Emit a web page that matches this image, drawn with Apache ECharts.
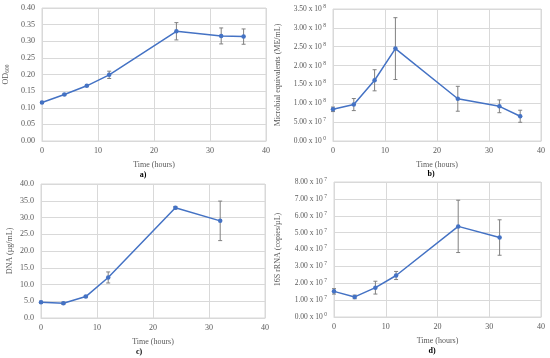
<!DOCTYPE html>
<html><head><meta charset="utf-8">
<script src="https://cdn.jsdelivr.net/npm/echarts@6/dist/echarts.min.js"></script>
<style>html,body{margin:0;padding:0;background:#fff}#c{width:550px;height:358px}</style>
</head><body><div id="c"></div>
<script>
// Panel a: OD600
const timeA = [0, 4, 8, 12, 24, 32, 36];
const odValues = [0.116, 0.140, 0.166, 0.199, 0.330, 0.316, 0.314];
const odErr = [0.003, 0.002, 0.002, 0.011, 0.026, 0.024, 0.023];
// Panel b: microbial equivalents (ME/mL)
const timeB = [0, 4, 8, 12, 24, 32, 36];
const meValues = [0.84e8, 0.966e8, 1.61e8, 2.45e8, 1.12e8, 0.92e8, 0.656e8];
const meErr = [0.06e8, 0.16e8, 0.28e8, 0.82e8, 0.33e8, 0.17e8, 0.16e8];
// Panel c: DNA (µg/mL)
const timeC = [0, 4, 8, 12, 24, 32];
const dnaValues = [4.7, 4.4, 6.4, 12.1, 32.9, 29.0];
const dnaErr = [0.3, 0.3, 0.3, 1.65, 0.4, 5.9];
// Panel d: 16S rRNA (copies/µL)
const timeD = [0, 4, 8, 12, 24, 32];
const rnaValues = [1.52e7, 1.19e7, 1.74e7, 2.46e7, 5.37e7, 4.71e7];
const rnaErr = [0.16e7, 0.11e7, 0.38e7, 0.24e7, 1.55e7, 1.05e7];

const xTicks = {min: 0, max: 40, interval: 10};
const panelLabels = ['a)', 'b)', 'c)', 'd)'];

const FONT = '"Liberation Serif", "DejaVu Serif", serif';
const TXT = '#595959';
const LINE = '#4472C4';
const GRIDC = '#d9d9d9';

function sciFmt(v) {
  if (v === 0) return '0.00 x 10{sup|0}';
  const e = Math.floor(Math.log10(v) + 1e-9);
  const m = v / Math.pow(10, e);
  return m.toFixed(2) + ' x 10{sup|' + e + '}';
}
const supRich = {sup: {fontSize: 5.5, fontFamily: FONT, color: TXT, verticalAlign: 'bottom', padding: [0, 0, 5, 1.5]}};

const grids = [
  {left: 42, top: 8, width: 224, height: 133},
  {left: 333, top: 9, width: 208, height: 132},
  {left: 41, top: 184, width: 224, height: 134},
  {left: 334, top: 182, width: 207, height: 135}
];

function xAxis(i) {
  return {
    type: 'value', gridIndex: i, min: xTicks.min, max: xTicks.max, interval: xTicks.interval,
    name: 'Time (hours)', nameLocation: 'middle', nameGap: 20,
    nameTextStyle: {fontFamily: FONT, fontSize: 8, color: TXT},
    axisLine: {show: true, lineStyle: {color: GRIDC}}, axisTick: {show: false},
    axisLabel: {fontFamily: FONT, fontSize: 8, color: TXT, margin: 6},
    splitLine: {show: true, lineStyle: {color: GRIDC, width: 1}}
  };
}
function yAxis(i, opts) {
  return Object.assign({
    type: 'value', gridIndex: i, nameLocation: 'middle', nameRotate: 90,
    nameTextStyle: {fontFamily: FONT, fontSize: 8, color: TXT},
    axisLine: {show: false}, axisTick: {show: false},
    splitLine: {show: true, lineStyle: {color: GRIDC, width: 1}}
  }, opts);
}

function lineSeries(i, xs, ys) {
  return {
    type: 'line', xAxisIndex: i, yAxisIndex: i,
    data: xs.map((x, k) => [x, ys[k]]),
    symbol: 'circle', symbolSize: 4.5, z: 3,
    lineStyle: {color: LINE, width: 1.5}, itemStyle: {color: LINE}
  };
}
function errSeries(i, xs, ys, es) {
  return {
    type: 'custom', xAxisIndex: i, yAxisIndex: i, z: 2,
    data: xs.map((x, k) => [x, ys[k] - es[k], ys[k] + es[k]]),
    renderItem: function (params, api) {
      const lo = api.coord([api.value(0), api.value(1)]);
      const hi = api.coord([api.value(0), api.value(2)]);
      const cw = 2;
      const st = {stroke: '#808080', lineWidth: 1};
      return {type: 'group', children: [
        {type: 'line', shape: {x1: lo[0], y1: lo[1], x2: hi[0], y2: hi[1]}, style: st},
        {type: 'line', shape: {x1: lo[0] - cw, y1: lo[1], x2: lo[0] + cw, y2: lo[1]}, style: st},
        {type: 'line', shape: {x1: hi[0] - cw, y1: hi[1], x2: hi[0] + cw, y2: hi[1]}, style: st}
      ]};
    }
  };
}

const labelPos = [[143, 171], [431, 170], [139, 348], [432, 347]];

const option = {
  animation: false,
  backgroundColor: '#fff',
  grid: grids.map(g => Object.assign({containLabel: false, show: true, borderColor: GRIDC, borderWidth: 1}, g)),
  title: panelLabels.map((t, i) => ({
    text: t, left: labelPos[i][0], top: labelPos[i][1], textAlign: 'center', padding: 0,
    textStyle: {fontFamily: FONT, fontSize: 8, fontWeight: 'bold', color: '#000'}
  })),
  xAxis: [0, 1, 2, 3].map(xAxis),
  yAxis: [
    yAxis(0, {min: 0, max: 0.4, interval: 0.05, name: 'OD{sub|600}', nameGap: 31,
      nameTextStyle: {fontFamily: FONT, fontSize: 8, color: TXT,
        rich: {sub: {fontSize: 5.5, fontFamily: FONT, color: TXT, verticalAlign: 'top', padding: [4, 0, 0, 0]}}},
      axisLabel: {fontFamily: FONT, fontSize: 8, color: TXT, margin: 7, formatter: v => v.toFixed(2)}}),
    yAxis(1, {min: 0, max: 3.5e8, interval: 0.5e8, name: 'Microbial equivalents (ME/mL)', nameGap: 51,
      axisLabel: {fontFamily: FONT, fontSize: 7.5, color: TXT, margin: 7, formatter: sciFmt, rich: supRich}}),
    yAxis(2, {min: 0, max: 40, interval: 5, name: 'DNA (µg/mL)', nameGap: 27,
      axisLabel: {fontFamily: FONT, fontSize: 8, color: TXT, margin: 7, formatter: v => v.toFixed(1)}}),
    yAxis(3, {min: 0, max: 8e7, interval: 1e7, name: '16S rRNA (copies/µL)', nameGap: 52,
      axisLabel: {fontFamily: FONT, fontSize: 7.5, color: TXT, margin: 7, formatter: sciFmt, rich: supRich}})
  ],
  series: [
    errSeries(0, timeA, odValues, odErr), lineSeries(0, timeA, odValues),
    errSeries(1, timeB, meValues, meErr), lineSeries(1, timeB, meValues),
    errSeries(2, timeC, dnaValues, dnaErr), lineSeries(2, timeC, dnaValues),
    errSeries(3, timeD, rnaValues, rnaErr), lineSeries(3, timeD, rnaValues)
  ]
};
const chart = echarts.init(document.getElementById('c'), null, {renderer: 'canvas'});
chart.setOption(option);
</script></body></html>
